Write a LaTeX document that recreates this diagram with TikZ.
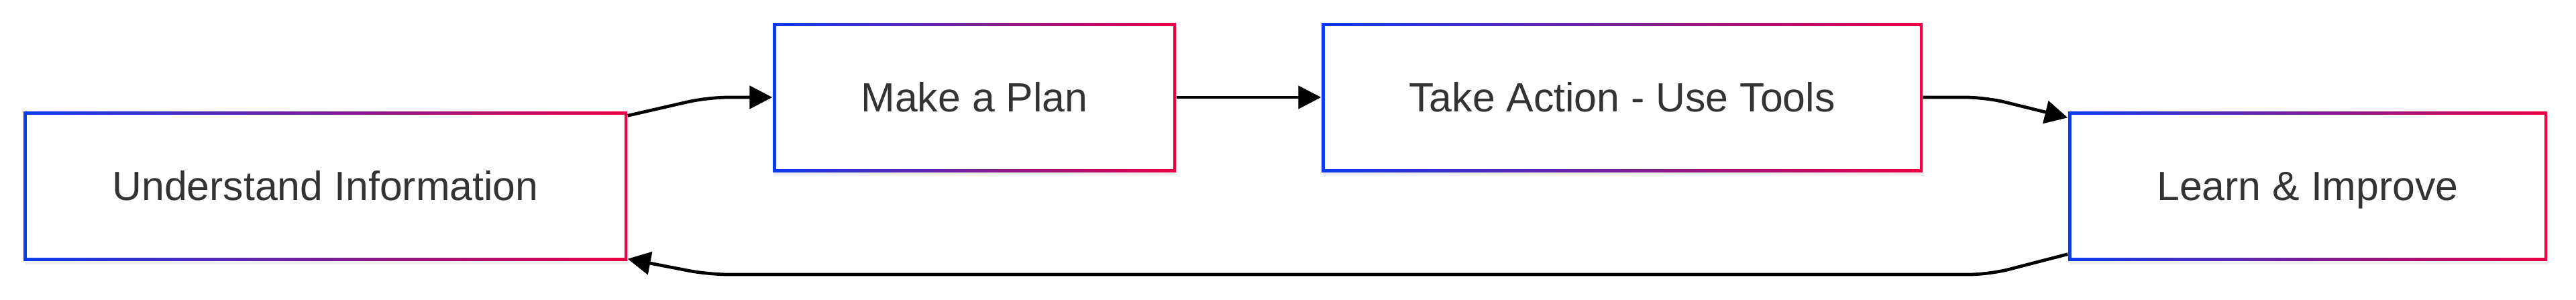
\documentclass[tikz,border=0pt]{standalone}
\usepackage{fontspec}
\setmainfont{Liberation Sans}
\usepackage{tikz}
\usepackage{xcolor}
\usetikzlibrary{arrows.meta,shadows}
\definecolor{edgeblue}{HTML}{0A3CF0}
\definecolor{edgered}{HTML}{EE0044}
\definecolor{inkgrey}{HTML}{333333}
\tikzset{
  stagebox/.style={rectangle,minimum height=2.22cm,inner sep=0pt,text height=0.435cm,text depth=0pt,
    left color=edgeblue,right color=edgered,text=inkgrey,font=\fontsize{17.3}{20}\selectfont,
    drop shadow={shadow xshift=0.02cm,shadow yshift=-0.06cm,opacity=0.12},
    path picture={\fill[white] ([shift={(0.045,0.045)}]path picture bounding box.south west)
      rectangle ([shift={(-0.045,-0.045)}]path picture bounding box.north east);}},
  flow/.style={line width=1.35pt,rounded corners=0.3cm,-{Triangle[length=0.34cm,width=0.34cm]}}
}
\begin{document}
\begin{tikzpicture}
  \useasboundingbox (0,0) rectangle (38.40,4.46);
  \node[stagebox,minimum width=9.00cm] (und) at (4.85,1.69) {Understand Information};
  \node[stagebox,minimum width=6.01cm] (plan) at (14.525,3.01) {Make a Plan};
  \node[stagebox,minimum width=8.96cm] (act) at (24.18,3.01) {Take Action - Use Tools};
  \node[stagebox,minimum width=7.14cm] (learn) at (34.40,1.69) {Learn \& Improve};
  \draw[flow] ([yshift=-0.07cm]und.north east) -- (10.55,3.01) -- (plan.west);
  \draw[flow] (plan.east) -- (act.west);
  \draw[flow] (act.east) -- (29.60,3.01) -- ([yshift=-0.1cm]learn.north west);
  \draw[flow] ([yshift=0.1cm]learn.south west) -- (29.65,0.37) -- (10.56,0.37) -- ([yshift=0.03cm]und.south east);
\end{tikzpicture}
\end{document}
